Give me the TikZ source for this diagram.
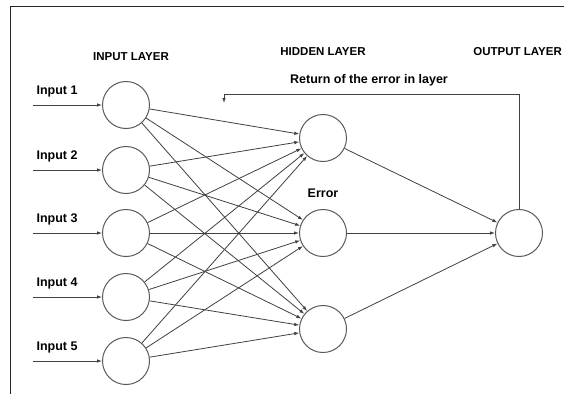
\documentclass[tikz,border=0pt]{standalone}
\usepackage{fontspec}
\setmainfont{Liberation Sans}
\usetikzlibrary{arrows.meta}
\tikzset{
  neuron/.style={circle,draw=black!65,line width=1pt,minimum size=47pt,inner sep=0pt},
  link/.style={draw=black!75,line width=0.8pt,-{Latex[length=5pt,width=3.5pt]}},
  title/.style={font=\bfseries\fontsize{11.5}{13}\selectfont},
  lbl/.style={font=\bfseries\fontsize{12.5}{14}\selectfont}
}
\begin{document}
\begin{tikzpicture}[x=1pt,y=-1pt]
\useasboundingbox (0,0) rectangle (564,394);
% frame
\draw[black!85,line width=1.2pt] (564,6.5) -- (10.5,6.5) -- (10.5,394);
% layer titles
\node[title] (tin) at (131,57) {INPUT LAYER};
\node[title] (thid) at (323,52) {HIDDEN LAYER};
\node[title,anchor=east,inner xsep=1pt] (tout) at (563,52) {OUTPUT LAYER};
% input neurons and their inputs
\foreach \i/\y in {1/105,2/170,3/233,4/297,5/361} {
  \node[neuron] (in\i) at (126,\y) {};
  \coordinate (src\i) at (33,\y);
  \node[lbl,anchor=south west] (lin\i) at (33,\y-4) {Input \i};
  \draw[link] (src\i) -- (in\i);
}
% hidden neurons
\node[neuron] (h1) at (323,138) {};
\node[neuron] (h2) at (323,233) {};
\node[neuron] (h3) at (323,329) {};
\node[lbl] (err) at (323,193) {Error};
% output neuron
\node[neuron] (out) at (519,233) {};
% connections
\foreach \i in {1,...,5}
  \foreach \j in {1,2,3}
    \draw[link] (in\i) -- (h\j);
\foreach \j in {1,2,3}
  \draw[link] (h\j) -- (out);
% error feedback
\coordinate (fb) at (224,103);
\draw[link] (out.north) -- (out.north |- 0,94) -- (fb |- 0,94) -- (fb);
\node[lbl] (ret) at (369,80) {Return of the error in layer};
\end{tikzpicture}
\end{document}
